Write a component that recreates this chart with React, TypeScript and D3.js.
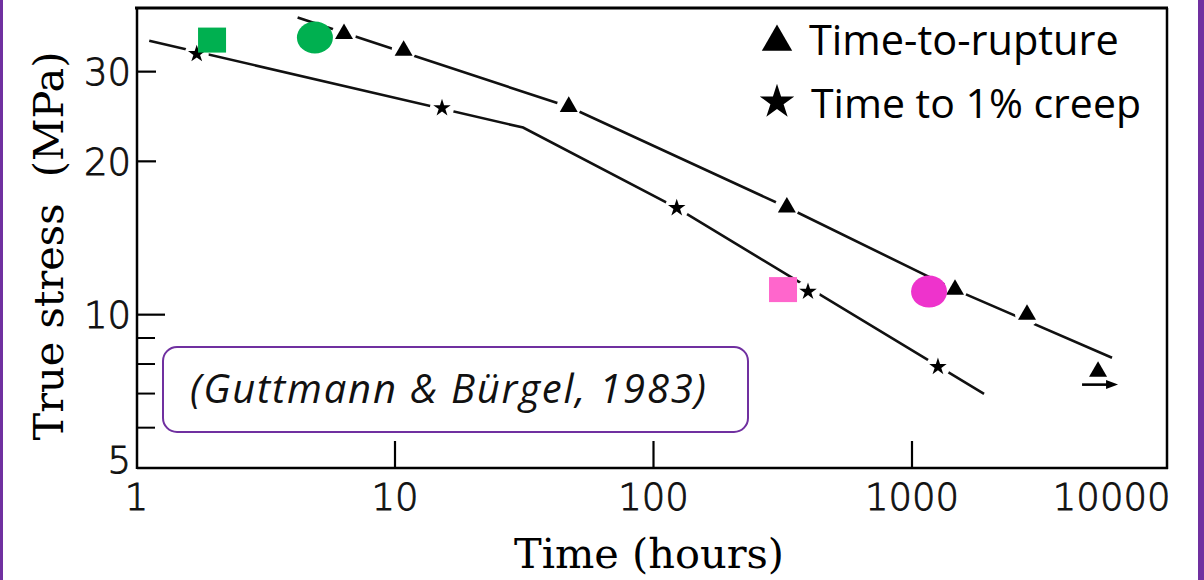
import React from 'react';
import * as d3 from 'd3';

const W = 1204;
const H = 580;

// Time-to-rupture tests (hours, MPa)
const ruptureHours = [6.35, 10.8, 47, 328, 1467, 2786, 5245];
const ruptureStress = [35.6, 33.0, 25.6, 16.25, 11.2, 10.0, 7.73];
const ruptureRunoutIndex = 6; // specimen still unbroken
// Fitted rupture curve
const ruptureFitHours = [4.2, 47, 328, 1467, 5940];
const ruptureFitStress = [38.3, 25.6, 16.25, 11.2, 8.23];

// Time to 1% creep (hours, MPa)
const creepHours = [1.71, 15.2, 123, 396, 1260];
const creepStress = [32.5, 25.45, 16.2, 11.1, 7.9];
// Fitted creep curve
const creepFitHours = [1.12, 31.3, 123, 1900];
const creepFitStress = [34.5, 23.3, 16.2, 6.99];

// Highlighted points
const highlightKind = ['square', 'circle', 'square', 'circle'];
const highlightHours = [1.96, 4.9, 317, 1164];
const highlightStress = [34.6, 35.0, 11.2, 11.1];
const highlightColor = ['#00B050', '#00B050', '#FF66CC', '#EE33CC'];

const xTickValues = [1, 10, 100, 1000, 10000];
const xTickLabels = ['1', '10', '100', '1000', '10000'];
const yMajorValues = [5, 10, 20, 30];
const yMajorLabels = ['5', '10', '20', '30'];
const yMinorValues = [6, 7, 8, 9];

const legendLabels = ['Time-to-rupture', 'Time to 1% creep'];
const citation = '(Guttmann & Bürgel, 1983)';

const PURPLE = '#7030A0';
const TICK_FONT = '"DejaVu Sans", sans-serif';
const TITLE_FONT = '"DejaVu Serif", serif';
const BODY_FONT = '"Open Sans", Lato, sans-serif';

export default function App() {
  const x = d3.scaleLog().domain([1, 10000]).range([136.5, 1170.5]);
  const y = d3.scaleLog().domain([5, 40]).range([468, 8]);

  const left = 137;
  const right = 1167;
  const top = 8;
  const bottom = 468;

  const line = d3
    .line<[number, number]>()
    .x((d) => x(d[0]))
    .y((d) => y(d[1]));

  const rupturePath = line(ruptureFitHours.map((h, i) => [h, ruptureFitStress[i]]));
  const creepPath = line(creepFitHours.map((h, i) => [h, creepFitStress[i]]));

  const tri = d3.symbol(d3.symbolTriangle, 140)();
  const star = d3.symbol(d3.symbolStar, 95)();
  const triLegend = d3.symbol(d3.symbolTriangle, 400)();
  const starLegend = d3.symbol(d3.symbolStar, 370)();

  const runX = x(ruptureHours[ruptureRunoutIndex]);
  const runY = y(ruptureStress[ruptureRunoutIndex]) + 13;

  const tickText = {
    fontFamily: TICK_FONT,
    fontWeight: 300,
    fontSize: 37,
    fill: '#111',
    stroke: '#111',
    strokeWidth: 0.9,
  };

  return (
    <svg
      width={W}
      height={H}
      style={{ position: 'absolute', left: 0, top: 0, background: '#fff' }}
    >
      <rect x={0} y={0} width={W} height={H} fill="#fff" />
      {/* slide side bars */}
      <rect x={0} y={0} width={3} height={H} fill={PURPLE} />
      <rect x={1198} y={0} width={6} height={H} fill={PURPLE} />

      {/* frame */}
      <line x1={135} x2={right + 1} y1={top} y2={top} stroke="#000" strokeWidth={3} />
      <line x1={left} x2={left} y1={top} y2={bottom + 1} stroke="#000" strokeWidth={2.5} />
      <line x1={right} x2={right} y1={top} y2={bottom + 1} stroke="#000" strokeWidth={2.5} />
      <line x1={left} x2={right + 1} y1={bottom} y2={bottom} stroke="#000" strokeWidth={2.5} />

      {/* x ticks and labels */}
      {xTickValues.map((v, i) => {
        const px = x(v);
        const last = i === xTickValues.length - 1;
        return (
          <g key={'xt' + v}>
            {px > left + 2 && px < right - 2 && (
              <line x1={px} x2={px} y1={bottom} y2={bottom - 27} stroke="#000" strokeWidth={2.2} />
            )}
            <text x={last ? Math.min(px, 1178) : px} y={510} textAnchor={last ? 'end' : 'middle'} {...tickText}>
              {xTickLabels[i]}
            </text>
          </g>
        );
      })}

      {/* y ticks and labels */}
      {yMajorValues.map((v, i) => {
        const py = y(v);
        return (
          <g key={'yt' + v}>
            {v !== 5 && (
              <line
                x1={left}
                x2={left + (v === 10 ? 28 : 19)}
                y1={py}
                y2={py}
                stroke="#000"
                strokeWidth={2.2}
              />
            )}
            <text x={131} y={Math.min(py, bottom - 8)} dy="0.36em" textAnchor="end" {...tickText}>
              {yMajorLabels[i]}
            </text>
          </g>
        );
      })}
      {yMinorValues.map((v) => (
        <line key={'ym' + v} x1={left} x2={left + 18} y1={y(v)} y2={y(v)} stroke="#000" strokeWidth={2} />
      ))}

      {/* fitted curves */}
      <path d={rupturePath ?? ''} fill="none" stroke="#111" strokeWidth={2.6} />
      <path d={creepPath ?? ''} fill="none" stroke="#111" strokeWidth={2.6} />

      {/* white gaps around the markers */}
      {ruptureHours.map((h, i) => (
        <circle key={'rh' + i} cx={x(h)} cy={y(ruptureStress[i])} r={12} fill="#fff" />
      ))}
      {creepHours.map((h, i) => (
        <circle key={'ch' + i} cx={x(h)} cy={y(creepStress[i])} r={12} fill="#fff" />
      ))}

      {/* markers */}
      {ruptureHours.map((h, i) => (
        <path key={'r' + i} d={tri ?? ''} transform={`translate(${x(h)},${y(ruptureStress[i])})`} fill="#000" />
      ))}
      {creepHours.map((h, i) => (
        <path key={'c' + i} d={star ?? ''} transform={`translate(${x(h)},${y(creepStress[i])})`} fill="#000" />
      ))}

      {/* run-out arrow */}
      <line x1={runX - 16} x2={runX + 12} y1={runY} y2={runY} stroke="#000" strokeWidth={2.6} />
      <path d={`M${runX + 20},${runY} L${runX + 8},${runY - 4.5} L${runX + 8},${runY + 4.5} Z`} fill="#000" />

      {/* highlighted points */}
      {highlightHours.map((h, i) => {
        const cx = x(h);
        const cy = y(highlightStress[i]);
        return highlightKind[i] === 'square' ? (
          <rect key={'hl' + i} x={cx - 14} y={cy - 12.5} width={28} height={25} fill={highlightColor[i]} />
        ) : (
          <ellipse key={'hl' + i} cx={cx} cy={cy} rx={18} ry={16} fill={highlightColor[i]} />
        );
      })}

      {/* legend */}
      <path d={triLegend ?? ''} transform="translate(777,42)" fill="#000" />
      <path d={starLegend ?? ''} transform="translate(777,102)" fill="#000" />
      <text x={809} y={55} fontFamily={BODY_FONT} fontSize={41.5} fill="#000">
        {legendLabels[0]}
      </text>
      <text x={811} y={118} fontFamily={BODY_FONT} fontSize={41} fill="#000">
        {legendLabels[1]}
      </text>

      {/* citation box */}
      <rect x={163} y={347} width={585} height={85} rx={14} ry={14} fill="#fff" stroke={PURPLE} strokeWidth={2} />
      <text x={190} y={403} fontFamily={BODY_FONT} fontStyle="italic" fontSize={40} letterSpacing={1.8} fill="#111">
        {citation}
      </text>

      {/* axis titles */}
      <text
        transform="translate(63,246) rotate(-90)"
        textAnchor="middle"
        fontFamily={TITLE_FONT}
        fontSize={41.5}
        fill="#000"
        style={{ whiteSpace: 'pre' }}
      >
        {'True stress  (MPa)'}
      </text>
      <text x={649} y={568} textAnchor="middle" fontFamily={TITLE_FONT} fontSize={41.5} fill="#000">
        Time (hours)
      </text>
    </svg>
  );
}
